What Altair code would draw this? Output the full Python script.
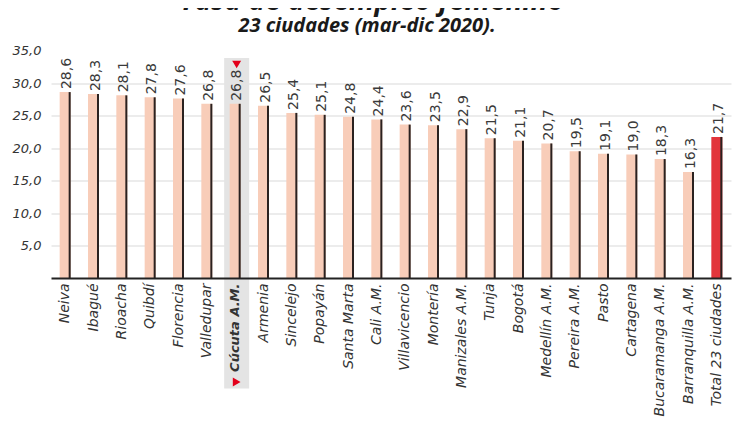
import altair as alt
import pandas as pd

cities = ["Neiva", "Ibagué", "Rioacha", "Quibdí", "Florencia", "Valledupar",
          "Cúcuta A.M.", "Armenia", "Sincelejo", "Popayán", "Santa Marta",
          "Cali A.M.", "Villavicencio", "Montería", "Manizales A.M.", "Tunja",
          "Bogotá", "Medellín A.M.", "Pereira A.M.", "Pasto", "Cartagena",
          "Bucaramanga A.M.", "Barranquilla A.M.", "Total 23 ciudades"]
values = [28.6, 28.3, 28.1, 27.8, 27.6, 26.8, 26.8, 26.5, 25.4, 25.1, 24.8,
          24.4, 23.6, 23.5, 22.9, 21.5, 21.1, 20.7, 19.5, 19.1, 19.0, 18.3,
          16.3, 21.7]
groups = ["ciudad"] * 23 + ["total"]
highlight_city = "Cúcuta A.M."
title_text = "Tasa de desempleo femenino"
subtitle_text = "23 ciudades (mar-dic 2020)."
y_ticks = [5, 10, 15, 20, 25, 30, 35]

df = pd.DataFrame({
    "city": cities,
    "value": values,
    "group": groups,
    "label": [f"{v:.1f}".replace(".", ",") for v in values],
    "hl": [c == highlight_city for c in cities],
})

FONT = "DejaVu Sans"
is_hl = f"datum.value == '{highlight_city}'"

x_enc = alt.X(
    "city:N", sort=cities,
    scale=alt.Scale(paddingInner=0, paddingOuter=0),
    axis=alt.Axis(
        title=None, labelAngle=-90, labelFont=FONT,
        labelFontSize=alt.condition(is_hl, alt.value(13), alt.value(14)),
        labelFontStyle="italic", labelColor="#333333", labelPadding=5,
        ticks=False, domainColor="#222222", domainWidth=2, grid=False,
        labelFontWeight=alt.condition(is_hl, alt.value("bold"),
                                      alt.value("normal")),
    ),
)
y_enc = alt.Y(
    "value:Q",
    scale=alt.Scale(domain=[0, 35], nice=False),
    axis=alt.Axis(
        title=None, values=y_ticks, domain=False, ticks=False,
        labelExpr="replace(format(datum.value, '.1f'), '.', ',')",
        labelFont=FONT, labelFontSize=13, labelFontStyle="italic",
        labelColor="#333333", labelPadding=10,
        gridColor=alt.condition("datum.value == 35", alt.value("transparent"),
                                alt.value("#e6e6e6")),
        gridWidth=1.5,
    ),
)

base = alt.Chart(df)

hl = base.transform_filter("datum.hl")

highlight = hl.mark_rect(color="#e4e4e4", width=25, xOffset=1.5).encode(
    x=x_enc, y=alt.value(7.5), y2=alt.value(338)
)

bars = base.mark_bar(size=11).encode(
    x=x_enc, y=y_enc,
    color=alt.Color("group:N", legend=None,
                    scale=alt.Scale(domain=["ciudad", "total"],
                                    range=["#f8cdb9", "#e2353b"])),
)

edges = base.mark_bar(size=2, xOffset=4.5, color="#2b2220").encode(
    x=x_enc, y=y_enc
)

labels = base.mark_text(angle=270, align="left", baseline="middle", dx=3, dy=2,
                        font=FONT, fontSize=14, color="#3a3a3a").encode(
    x=x_enc, y=y_enc, text="label:N"
)

tri_top = hl.mark_point(shape="triangle-down", filled=True, color="#e3001b",
                        size=80, opacity=1, xOffset=1.5).encode(
    x=x_enc, y=alt.value(14)
)
tri_bot = hl.mark_point(shape="triangle-right", filled=True, color="#e3001b",
                        size=80, opacity=1, xOffset=1.5).encode(
    x=x_enc, y=alt.value(331.5)
)

title = alt.Chart(pd.DataFrame({"t": [title_text]})).mark_text(
    font="Open Sans", fontSize=28, fontWeight="bold", fontStyle="italic",
    color="#1a1a1a", align="center", baseline="alphabetic"
).encode(text="t:N", x=alt.value(321), y=alt.value(-41))

subtitle = alt.Chart(pd.DataFrame({"t": [subtitle_text]})).mark_text(
    font="Open Sans", fontSize=20, fontWeight="bold", fontStyle="italic",
    color="#1a1a1a", align="center", baseline="alphabetic"
).encode(text="t:N", x=alt.value(316), y=alt.value(-18.5))

chart = alt.layer(highlight, bars, edges, labels, tri_top, tri_bot, title,
                  subtitle).properties(
    width=680, height=227.5,
    autosize=alt.AutoSizeParams(type="none"),
    padding={"left": 43, "top": 42.5, "right": 8, "bottom": 141},
).configure_view(stroke=None)

chart.save("out.html", embed_options={"renderer": "svg", "actions": False})
